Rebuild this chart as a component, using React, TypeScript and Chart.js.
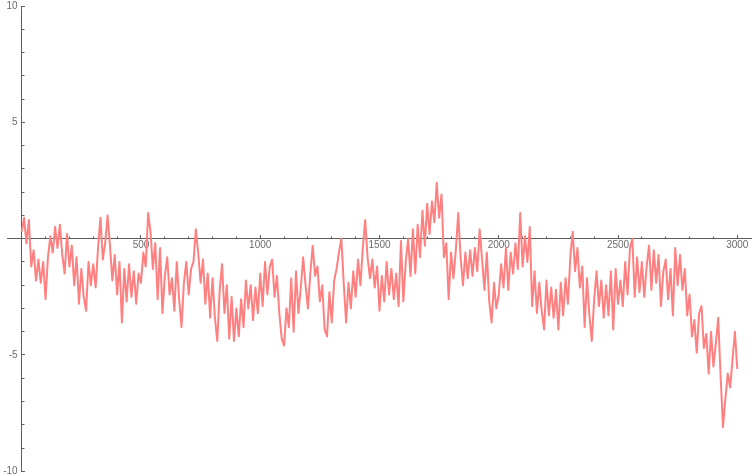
import React, { useEffect, useRef } from 'react';
import { Chart, registerables } from 'chart.js';

Chart.register(...registerables);

// sample spacing of the walk (index units on the x axis)
const SAMPLE_STEP = 10;

// values, one every SAMPLE_STEP steps (x = 0 … 3000)
const WALK: number[] = [
  0.3, 0.9, -0.2, 0.8, -1.2, -0.5, -1.8, -0.9, -1.9, -1.0,
  -2.6, -0.8, 0.1, -0.6, 0.5, -0.4, 0.6, -0.7, -1.5, 0.2,
  -1.2, -0.3, -2.0, -0.8, -2.8, -1.3, -2.5, -3.1, -1.0, -2.0,
  -1.1, -2.1, -0.4, 0.9, -0.9, -0.2, 1.0, -0.3, -1.8, -0.7,
  -2.4, -1.0, -3.6, -1.3, -2.7, -1.1, -2.5, -1.4, -2.8, -1.5,
  -1.9, -0.6, -1.2, 1.1, 0.3, -1.3, -0.2, -2.6, -0.4, -3.2,
  -1.6, -0.8, -2.4, -1.7, -3.1, -1.0, -2.6, -3.8, -1.9, -1.0,
  -2.4, -1.3, -1.0, 0.4, -0.6, -1.9, -0.9, -2.8, -1.5, -3.4,
  -1.7, -3.4, -4.4, -2.2, -1.1, -3.2, -2.0, -4.3, -2.5, -4.4,
  -3.0, -4.2, -2.6, -3.8, -1.8, -3.0, -2.0, -3.5, -2.1, -3.2,
  -1.5, -2.9, -1.0, -2.4, -1.2, -0.9, -2.5, -1.6, -3.2, -4.3,
  -4.6, -3.0, -3.8, -1.7, -4.0, -1.4, -3.2, -2.1, -0.8, -2.0,
  -3.0, -1.5, -0.3, -1.6, -1.2, -2.7, -2.0, -3.9, -4.2, -2.3,
  -3.6, -1.8, -1.3, -0.6, 0.0, -1.9, -3.6, -1.9, -3.0, -1.4,
  -2.5, -0.9, -2.0, -0.4, 0.8, -0.8, -1.7, -0.9, -2.1, -1.2,
  -3.1, -1.6, -2.7, -1.0, -2.4, -1.3, -2.6, -1.5, -2.9, -0.1,
  -2.7, -1.0, 0.0, -1.6, 0.4, -1.5, 0.6, -0.8, 1.2, -0.3,
  1.5, 0.2, 1.6, 0.7, 2.4, 0.9, 1.9, -0.8, -0.2, -2.6,
  -0.6, -1.7, -0.5, 1.1, -0.8, -2.0, -0.6, -1.7, -0.5, -1.6,
  -0.4, -1.4, 0.4, -0.9, -2.2, -0.6, -2.7, -3.6, -1.9, -3.0,
  -2.4, -1.1, -2.1, -0.4, -2.2, -0.6, -1.5, -0.2, -1.3, 1.1,
  -1.2, 0.1, -1.0, 0.5, -2.9, -1.4, -3.2, -1.9, -3.1, -3.9,
  -1.8, -3.3, -2.1, -3.4, -2.2, -3.9, -1.9, -3.3, -1.7, -2.8,
  -0.8, 0.3, -1.4, -0.4, -2.1, -1.2, -3.8, -1.7, -3.3, -4.4,
  -2.6, -1.4, -2.9, -1.8, -3.4, -2.0, -3.3, -1.4, -3.9, -1.3,
  -2.8, -1.8, -2.9, -1.0, -2.4, -0.4, 0.0, -2.5, -0.8, -2.3,
  -1.0, -2.5, -1.2, -0.3, -2.2, -0.5, -1.9, -0.7, -2.9, -1.4,
  -0.9, -2.6, -1.3, -3.3, -0.4, -2.0, -0.7, -2.2, -1.3, -3.3,
  -2.4, -4.2, -3.5, -4.9, -3.2, -2.9, -4.7, -4.1, -5.8, -4.0,
  -5.5, -4.5, -3.4, -5.9, -8.1, -6.9, -5.8, -6.4, -5.2, -4.0,
  -5.6,
];

const X_MIN = -60;
const X_MAX = 3060;
const Y_MIN = -10;
const Y_MAX = 10;

const X_MAJOR_TICKS = [500, 1000, 1500, 2000, 2500, 3000];
const X_MINOR_TICKS = [
  100, 200, 300, 400, 600, 700, 800, 900, 1100, 1200, 1300, 1400,
  1600, 1700, 1800, 1900, 2100, 2200, 2300, 2400, 2600, 2700, 2800, 2900,
];
const Y_MAJOR_TICKS = [-10, -5, 5, 10];
const Y_MINOR_TICKS = [-9, -8, -7, -6, -4, -3, -2, -1, 1, 2, 3, 4, 6, 7, 8, 9];

// the y tick labels sit a little left of the y axis (in x-axis units)
const Y_LABEL_ANCHOR_X = -17;

const AXIS_COLOR = '#5e5e5e';
const LABEL_COLOR = '#6a6a6a';
const LINE_COLOR = 'rgb(255, 128, 128)';
const FONT = { family: '"Liberation Sans", Arial, sans-serif', size: 10 };

const zeroPadding = (scale: any) => {
  scale.paddingTop = 0;
  scale.paddingBottom = 0;
  scale.paddingLeft = 0;
  scale.paddingRight = 0;
};

const setTicks = (values: number[]) => (scale: any) => {
  scale.ticks = values.map((v) => ({ value: v }));
};

const tickGrid = (len: number) => ({
  drawOnChartArea: false,
  drawTicks: true,
  tickLength: len,
  tickColor: AXIS_COLOR,
  tickWidth: 1,
});

export default function App() {
  const ref = useRef<HTMLCanvasElement | null>(null);

  useEffect(() => {
    if (!ref.current) return;
    const points = WALK.map((v, i) => ({ x: i * SAMPLE_STEP, y: v }));
    const chart = new Chart(ref.current, {
      type: 'line',
      data: {
        datasets: [
          {
            data: points,
            borderColor: LINE_COLOR,
            borderWidth: 2,
            borderJoinStyle: 'round',
            pointRadius: 0,
            tension: 0,
            fill: false,
            xAxisID: 'x',
            yAxisID: 'y',
          },
        ],
      },
      options: {
        responsive: false,
        animation: false,
        devicePixelRatio: 1,
        parsing: false as any,
        layout: { padding: { left: 7.4, right: 1.4, top: 6, bottom: 3.7 } },
        plugins: { legend: { display: false }, tooltip: { enabled: false } },
        scales: {
          x: {
            type: 'linear',
            min: X_MIN,
            max: X_MAX,
            position: { y: 0 } as any,
            afterBuildTicks: setTicks(X_MAJOR_TICKS),
            afterFit: zeroPadding,
            border: { display: true, color: AXIS_COLOR, width: 1 },
            grid: tickGrid(-4),
            ticks: {
              color: LABEL_COLOR,
              font: FONT,
              padding: 5,
              maxRotation: 0,
              autoSkip: false,
              callback: (v: any) => String(v),
            },
          },
          xm: {
            type: 'linear',
            min: X_MIN,
            max: X_MAX,
            position: { y: 0 } as any,
            afterBuildTicks: setTicks(X_MINOR_TICKS),
            afterFit: zeroPadding,
            border: { display: false },
            grid: tickGrid(-2.5),
            ticks: { display: false, autoSkip: false },
          },
          y: {
            type: 'linear',
            min: Y_MIN,
            max: Y_MAX,
            position: { x: 0 } as any,
            afterBuildTicks: setTicks(Y_MAJOR_TICKS),
            afterFit: zeroPadding,
            border: { display: true, color: AXIS_COLOR, width: 1 },
            grid: tickGrid(-4),
            ticks: { display: false, autoSkip: false },
          },
          ym: {
            type: 'linear',
            min: Y_MIN,
            max: Y_MAX,
            position: { x: 0 } as any,
            afterBuildTicks: setTicks(Y_MINOR_TICKS),
            afterFit: zeroPadding,
            border: { display: false },
            grid: tickGrid(-2.5),
            ticks: { display: false, autoSkip: false },
          },
          yl: {
            type: 'linear',
            min: Y_MIN,
            max: Y_MAX,
            position: { x: Y_LABEL_ANCHOR_X } as any,
            afterBuildTicks: setTicks(Y_MAJOR_TICKS),
            afterFit: zeroPadding,
            border: { display: false },
            grid: { drawOnChartArea: false, drawTicks: false },
            ticks: {
              color: LABEL_COLOR,
              font: FONT,
              autoSkip: false,
              callback: (v: any) => String(v),
            },
          },
        },
      } as any,
    });
    return () => chart.destroy();
  }, []);

  return (
    <div style={{ position: 'absolute', left: 0, top: 0, width: 753, height: 475, background: '#fff' }}>
      <canvas ref={ref} width={753} height={475} style={{ display: 'block' }} />
    </div>
  );
}
